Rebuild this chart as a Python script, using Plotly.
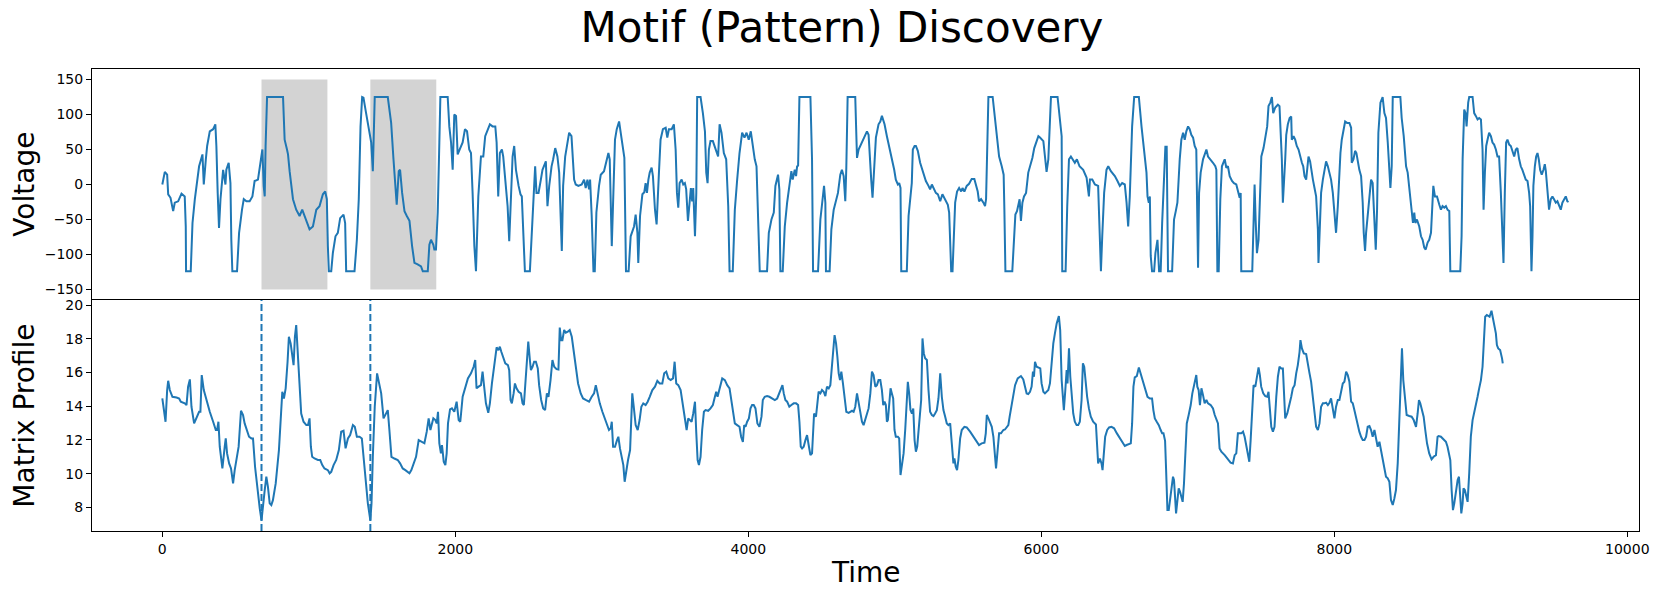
import plotly.graph_objects as go
from plotly.subplots import make_subplots

# ---------------- data ----------------
volt_time = [
    0, 17, 33, 40, 56, 74, 85, 108, 131, 153,
    160, 162, 194, 206, 222, 233, 251, 274, 283, 297,
    306, 324, 347, 362, 369, 378, 387, 397, 415, 431,
    437, 453, 465, 471, 478, 510, 524, 544, 556, 574,
    596, 615, 630, 653, 676, 683, 692, 699, 705, 715,
    824, 835, 851, 858, 869, 892, 914, 937, 955, 978,
    1005, 1028, 1051, 1073, 1096, 1112, 1123, 1130, 1137, 1153,
    1164, 1182, 1198, 1214, 1237, 1248, 1255, 1312, 1328, 1341,
    1353, 1364, 1373, 1391, 1410, 1426, 1437, 1450, 1539, 1562,
    1578, 1591, 1600, 1614, 1623, 1637, 1653, 1669, 1687, 1705,
    1721, 1743, 1766, 1778, 1812, 1823, 1834, 1850, 1857, 1868,
    1880, 1891, 1898, 1948, 1959, 1971, 1982, 1993, 2005, 2016,
    2027, 2050, 2066, 2080, 2095, 2107, 2118, 2130, 2141, 2148,
    2157, 2175, 2191, 2204, 2220, 2236, 2254, 2273, 2282, 2293,
    2304, 2318, 2327, 2341, 2357, 2368, 2379, 2391, 2402, 2414,
    2432, 2445, 2454, 2466, 2475, 2509, 2523, 2532, 2545, 2554,
    2568, 2584, 2595, 2618, 2629, 2641, 2657, 2668, 2682, 2697,
    2709, 2727, 2736, 2750, 2766, 2777, 2793, 2804, 2811, 2822,
    2840, 2863, 2879, 2890, 2902, 2913, 2920, 2931, 2943, 2952,
    2963, 2981, 2993, 3015, 3031, 3045, 3054, 3061, 3068, 3079,
    3090, 3102, 3118, 3129, 3140, 3154, 3165, 3183, 3197, 3208,
    3220, 3231, 3243, 3249, 3261, 3277, 3290, 3299, 3308, 3318,
    3327, 3340, 3349, 3363, 3374, 3390, 3401, 3417, 3436, 3447,
    3458, 3477, 3492, 3504, 3513, 3522, 3531, 3545, 3556, 3567,
    3576, 3588, 3599, 3608, 3617, 3624, 3636, 3645, 3651, 3674,
    3690, 3704, 3713, 3722, 3731, 3742, 3758, 3776, 3794, 3804,
    3817, 3833, 3849, 3863, 3872, 3894, 3908, 3924, 3940, 3958,
    3974, 3988, 4003, 4017, 4031, 4044, 4056, 4067, 4078, 4128,
    4140, 4158, 4174, 4185, 4203, 4212, 4219, 4235, 4249, 4265,
    4281, 4294, 4303, 4317, 4326, 4333, 4340, 4349, 4424, 4435,
    4442, 4476, 4492, 4503, 4517, 4526, 4530, 4555, 4567, 4583,
    4594, 4612, 4628, 4639, 4651, 4662, 4669, 4678, 4730, 4742,
    4753, 4764, 4787, 4810, 4821, 4826, 4839, 4848, 4860, 4871,
    4889, 4901, 4912, 4930, 4946, 4962, 4980, 4996, 5007, 5021,
    5030, 5039, 5044, 5082, 5094, 5105, 5116, 5123, 5135, 5144,
    5157, 5173, 5196, 5212, 5230, 5241, 5253, 5271, 5280, 5294,
    5310, 5325, 5344, 5362, 5371, 5378, 5385, 5394, 5403, 5412,
    5425, 5439, 5453, 5462, 5475, 5491, 5507, 5525, 5543, 5555,
    5566, 5575, 5589, 5605, 5616, 5623, 5634, 5639, 5668, 5684,
    5698, 5712, 5730, 5743, 5748, 5755, 5802, 5814, 5823, 5834,
    5843, 5852, 5861, 5871, 5882, 5896, 5911, 5925, 5939, 5952,
    5968, 5980, 5991, 6014, 6025, 6036, 6048, 6059, 6066, 6111,
    6127, 6139, 6143, 6166, 6177, 6189, 6202, 6216, 6229, 6243,
    6261, 6286, 6309, 6325, 6332, 6348, 6366, 6388, 6400, 6407,
    6416, 6429, 6445, 6457, 6475, 6502, 6520, 6536, 6552, 6570,
    6582, 6593, 6604, 6620, 6634, 6666, 6684, 6700, 6718, 6725,
    6734, 6741, 6747, 6756, 6770, 6779, 6793, 6804, 6815, 6825,
    6838, 6847, 6856, 6865, 6893, 6906, 6918, 6929, 6945, 6956,
    6968, 6979, 6990, 7002, 7013, 7024, 7036, 7047, 7058, 7070,
    7077, 7088, 7104, 7127, 7138, 7156, 7172, 7188, 7195, 7202,
    7211, 7222, 7233, 7252, 7263, 7274, 7286, 7302, 7315, 7331,
    7342, 7354, 7361, 7365, 7440, 7449, 7456, 7463, 7472, 7483,
    7492, 7502, 7517, 7529, 7542, 7551, 7563, 7574, 7583, 7597,
    7615, 7626, 7633, 7642, 7649, 7656, 7665, 7672, 7683, 7695,
    7706, 7710, 7722, 7733, 7744, 7756, 7767, 7779, 7788, 7797,
    7808, 7815, 7824, 7835, 7842, 7854, 7865, 7876, 7888, 7892,
    7899, 7910, 7922, 7933, 7944, 7956, 7967, 7978, 7990, 8001,
    8012, 8024, 8035, 8042, 8051, 8062, 8074, 8087, 8103, 8115,
    8119, 8131, 8142, 8151, 8160, 8171, 8183, 8194, 8201, 8210,
    8217, 8228, 8240, 8251, 8262, 8274, 8283, 8292, 8301, 8315,
    8330, 8342, 8353, 8365, 8376, 8383, 8392, 8399, 8451, 8460,
    8474, 8490, 8501, 8512, 8528, 8537, 8546, 8553, 8564, 8580,
    8592, 8603, 8614, 8624, 8637, 8648, 8660, 8667, 8676, 8687,
    8701, 8717, 8728, 8739, 8751, 8762, 8773, 8785, 8792, 8860,
    8869, 8876, 8887, 8896, 8903, 8914, 8921, 8944, 8955, 8966,
    8978, 8989, 9001, 9012, 9019, 9028, 9037, 9046, 9057, 9069,
    9080, 9091, 9103, 9114, 9125, 9137, 9148, 9155, 9164, 9173,
    9182, 9194, 9205, 9216, 9228, 9239, 9250, 9262, 9273, 9284,
    9296, 9307, 9319, 9330, 9337, 9346, 9353, 9359, 9369, 9378,
    9387, 9396, 9405, 9416, 9428, 9437, 9444, 9455, 9466, 9478,
    9489, 9500, 9512, 9523, 9534, 9546, 9557, 9569, 9580, 9591, 9599,
]
volt_value = [
    0, 18, 14, -14, -19, -38, -26, -24, -13, -17,
    -60, -124, -124, -55, -21, 0, 26, 43, 0, 36,
    55, 76, 79, 86, 55, -12, -62, -21, 21, 0,
    21, 31, 2, -79, -124, -124, -69, -36, -21, -24,
    -24, -17, 5, 7, 36, 50, -2, -17, 55, 125,
    125, 64, 50, 43, 19, -21, -36, -45, -36, -50,
    -64, -60, -36, -31, -14, -10, -21, -88, -124, -124,
    -98, -74, -69, -48, -43, -55, -124, -124, -79, -21,
    83, 125, 124, 102, 79, 60, 19, 125, 125, 88,
    36, -7, -29, 19, 21, -12, -38, -45, -52, -88,
    -112, -114, -117, -124, -124, -86, -79, -86, -93, -93,
    -40, 60, 125, 125, 83, 60, 21, 100, 98, 43,
    48, 60, 79, 76, 50, 45, -12, -88, -124, -88,
    -17, 40, 40, 69, 79, 86, 83, 83, 60, -17,
    45, 50, 40, 7, -31, -81, -21, 40, 55, 21,
    -2, -14, -17, -81, -124, -124, -64, -12, 26, -12,
    -12, 7, 21, 33, -31, -2, 26, 36, 52, 40,
    17, -95, -2, 40, 64, 74, 69, 17, 7, 0,
    -2, 0, 7, -5, 7, -7, 7, -45, -124, -124,
    -40, -2, 14, 19, 33, 45, 36, -12, -88, -12,
    64, 79, 90, 74, 55, 38, -124, -124, -74, -67,
    -60, -43, -69, -112, -45, -14, -11, 2, -12, 7,
    17, 24, 12, -36, -57, 17, 64, 79, 81, 67,
    79, 79, 86, 50, -12, -33, 2, 7, 0, 2,
    -7, -52, -21, -5, -24, -5, -74, -12, 125, 125,
    102, 76, 17, 2, 50, 62, 62, 50, 40, 86,
    74, 45, 36, -31, -124, -124, -36, 7, 45, 74,
    67, 74, 64, 76, 52, 36, 26, -45, -124, -124,
    -69, -50, -40, -2, 14, -7, -124, -124, -60, -26,
    -2, 19, 7, 21, 12, 26, 27, 125, 125, 36,
    -124, -124, -50, -26, -2, -26, -124, -124, -64, -36,
    -26, -12, 14, 21, 12, -24, 24, 125, 125, 38,
    50, 55, 64, 76, 71, 50, 7, -19, 36, 67,
    86, 90, 98, 86, 69, 55, 36, 21, 7, 0,
    2, -5, -124, -124, -45, -21, 2, 50, 55, 55,
    48, 31, 17, 5, -2, -7, 0, -7, -12, -14,
    -24, -14, -21, -29, -40, -102, -124, -124, -60, -26,
    -10, -5, -10, -5, -10, -2, 1, 8, 8, 0,
    -10, -24, -21, -26, -31, -21, 79, 125, 125, 93,
    69, 40, 26, 14, -36, -124, -124, -79, -43, -38,
    -31, -21, -52, -26, -17, -12, 17, 27, 38, 52,
    62, 69, 67, 62, 40, 18, 36, 83, 125, 125,
    98, 69, -124, -124, -31, 36, 40, 36, 31, 36,
    26, 21, 10, -17, 7, 7, 0, -2, -74, -124,
    -74, -12, 21, 26, 19, 12, 5, -2, 2, 0,
    -26, -60, -17, 83, 125, 125, 83, 50, 17, -17,
    -26, -17, -102, -124, -124, -98, -79, -124, -124, -55,
    21, 54, 54, -124, -124, -50, -38, -26, 36, 64,
    74, 64, 76, 83, 79, 71, 67, 55, 50, -119,
    -12, 17, 36, 50, 40, 36, 31, 26, 21, -124,
    -124, -21, 26, 36, 24, 26, 12, 5, 2, 0,
    -10, -19, -12, -124, -124, -50, 0, -50, -98, -79,
    -21, 40, 52, 67, 83, 112, 117, 125, 102, 110,
    114, 112, 83, 36, -26, 12, 36, 71, 86, 95,
    97, 64, 69, 64, 55, 50, 40, 31, 26, 12,
    7, 26, 40, 33, 21, 7, -5, -17, -64, -112,
    -74, -12, 7, 21, 33, 26, 14, 7, -12, -40,
    -69, -31, 21, 45, 64, 79, 90, 88, 88, 81,
    31, 36, 48, 45, 31, 21, 12, -26, -69, -95,
    -69, -45, -26, 7, 2, -69, -93, -36, 74, 117,
    125, 102, 95, 60, 21, -5, 26, 125, 125, 95,
    69, 26, 17, -7, -31, -55, -40, -55, -50, -60,
    -74, -79, -90, -93, -83, -79, -69, -31, -2, -17,
    -17, -29, -36, -31, -33, -31, -36, -38, -124, -124,
    -74, 36, 107, 102, 83, 117, 125, 125, 102, 98,
    93, 95, 93, 50, -36, 17, 55, 64, 74, 69,
    60, 57, 50, 40, 40, -12, -79, -112, -12, 60,
    64, 57, 55, 48, 40, 50, 52, 36, 26, 21,
    12, 7, 5, -12, -31, -124, -74, -2, 26, 40,
    45, 36, 21, 14, 21, 29, 19, -5, -36, -21,
    -17, -21, -26, -24, -31, -36, -26, -21, -17, -24, -25,
]

mp_time = [
    0, 10, 22, 33, 40, 51, 69, 97, 115, 126,
    153, 165, 176, 188, 199, 217, 233, 251, 260, 269,
    283, 301, 324, 347, 365, 374, 383, 392, 410, 426,
    433, 442, 456, 469, 483, 494, 506, 521, 537, 551,
    562, 574, 592, 608, 619, 633, 649, 665, 677, 687,
    699, 710, 721, 733, 744, 755, 774, 796, 810, 819,
    830, 842, 855, 864, 876, 887, 896, 905, 914, 926,
    937, 948, 964, 983, 994, 1005, 1014, 1023, 1039, 1062,
    1078, 1092, 1107, 1130, 1142, 1153, 1169, 1187, 1205, 1221,
    1237, 1251, 1267, 1282, 1301, 1314, 1328, 1346, 1362, 1373,
    1387, 1403, 1420, 1428, 1437, 1450, 1466, 1478, 1494, 1510,
    1523, 1539, 1550, 1564, 1584, 1607, 1623, 1641, 1659, 1675,
    1687, 1700, 1721, 1732, 1750, 1766, 1789, 1805, 1818, 1830,
    1841, 1850, 1864, 1873, 1882, 1891, 1902, 1909, 1921, 1932,
    1941, 1950, 1964, 1977, 1993, 2009, 2023, 2034, 2050, 2068,
    2086, 2107, 2125, 2136, 2145, 2159,
    2175, 2186, 2198, 2209, 2225, 2236, 2250, 2266, 2282, 2295,
    2304, 2314, 2327, 2341, 2359, 2368, 2377, 2386, 2398, 2407,
    2418, 2432, 2448, 2459, 2468, 2482, 2498, 2509, 2516, 2527,
    2538, 2550, 2563, 2572, 2586, 2600, 2613, 2625, 2636, 2650,
    2663, 2675, 2691, 2704, 2713, 2722, 2731, 2743, 2754, 2768,
    2781, 2795, 2809, 2822, 2838, 2856, 2872, 2890, 2913, 2931,
    2947, 2959, 2970, 2986, 3004, 3022, 3038, 3049, 3061, 3068,
    3077, 3090, 3104, 3113, 3124, 3136, 3147, 3156, 3165, 3179,
    3193, 3199, 3208, 3218, 3231, 3245, 3258, 3270, 3283, 3299,
    3313, 3327, 3345, 3363, 3379, 3395, 3413, 3426, 3440, 3454,
    3470, 3486, 3497, 3508, 3522, 3538, 3554, 3567, 3579, 3590,
    3601, 3613, 3624, 3636, 3645, 3654, 3663, 3674, 3685, 3697,
    3708, 3726, 3742, 3758, 3772, 3781, 3790, 3799, 3813, 3822,
    3840, 3856, 3872, 3883, 3897, 3908, 3924, 3940, 3951, 3963,
    3972, 3981, 3992, 4004, 4015, 4026, 4037, 4049, 4062, 4076,
    4090, 4099, 4112, 4128, 4144, 4162, 4181, 4197, 4212, 4224,
    4233, 4242, 4253, 4265, 4280, 4294, 4310, 4326, 4340, 4349,
    4358, 4367, 4378, 4390, 4401, 4412, 4424, 4435, 4442, 4449,
    4462, 4471, 4480, 4492, 4503, 4515, 4526, 4537, 4549, 4560,
    4571, 4583, 4589, 4599, 4608, 4617, 4626, 4635, 4646, 4658,
    4669, 4685, 4696, 4708, 4719, 4730, 4742, 4753, 4764, 4776,
    4787, 4798, 4810, 4821, 4833, 4844, 4855, 4867, 4878, 4889,
    4901, 4912, 4921, 4930, 4939, 4946, 4953, 4962, 4971, 4980,
    4989, 4998, 5007, 5021, 5030, 5039, 5048, 5060, 5071, 5082,
    5089, 5098, 5107, 5117, 5126, 5135, 5144, 5153, 5162, 5173,
    5180, 5189, 5198, 5207, 5219, 5230, 5241, 5253, 5264, 5275,
    5287, 5298, 5310, 5321, 5332, 5344, 5355, 5366, 5378, 5389,
    5400, 5407, 5416, 5425, 5434, 5446, 5457, 5475, 5491, 5514,
    5537, 5559, 5575, 5593, 5612, 5621, 5628, 5639, 5653, 5662,
    5673, 5684, 5691, 5702, 5712, 5725, 5741, 5752, 5764, 5775,
    5784, 5798, 5809, 5821, 5839, 5861, 5877, 5889, 5900, 5911,
    5923, 5934, 5943, 5950, 5957, 5968, 5980, 5993, 6002, 6014,
    6025, 6036, 6048, 6059, 6070, 6082, 6093, 6105, 6120, 6129,
    6139, 6145, 6154, 6164, 6173, 6179, 6189, 6198, 6207, 6218,
    6229, 6241, 6252, 6263, 6275, 6284, 6293, 6302, 6313, 6325,
    6338, 6354, 6366, 6373, 6379, 6388, 6400, 6411, 6418, 6427,
    6436, 6450, 6463, 6479, 6497, 6516, 6536, 6554, 6570, 6582,
    6597, 6611, 6620, 6629, 6638, 6652, 6666, 6675, 6688, 6706,
    6725, 6741, 6756, 6765, 6775, 6788, 6802, 6815, 6825, 6834,
    6838, 6845, 6852, 6861, 6870, 6879, 6888, 6899, 6906, 6913,
    6920, 6927, 6938, 6947, 6956, 6965, 6974, 6984, 6993, 7006,
    7020, 7031, 7043, 7052, 7058, 7065, 7074, 7083, 7093, 7104,
    7115, 7127, 7138, 7156, 7172, 7184, 7195, 7206, 7217, 7229,
    7252, 7274, 7292, 7308, 7320, 7331, 7342, 7365, 7377, 7388,
    7399, 7411, 7420, 7429, 7440, 7449, 7461, 7472, 7483, 7492,
    7501, 7515, 7529, 7542, 7551, 7560, 7570, 7581, 7592, 7604,
    7615,
    7626, 7638, 7649, 7656, 7665, 7679, 7695, 7706, 7717, 7729,
    7740, 7751, 7763, 7769, 7779, 7792, 7808, 7819, 7831, 7842,
    7854, 7865, 7876, 7888, 7899, 7910, 7922, 7933, 7944, 7956,
    7967, 7978, 7990, 8001, 8012, 8024, 8035, 8047, 8058, 8069,
    8081, 8092, 8103, 8115, 8126, 8137, 8149, 8160, 8171, 8183,
    8194, 8206, 8217, 8228, 8240, 8251, 8262, 8274, 8285, 8296,
    8308, 8319, 8330, 8342, 8353, 8365, 8376, 8387, 8399, 8410,
    8421, 8433, 8444, 8455, 8462, 8471, 8483, 8494, 8512, 8528,
    8542, 8558, 8569, 8578, 8587, 8599, 8610, 8621, 8633, 8648,
    8664, 8678, 8694, 8705, 8712, 8728, 8739, 8762, 8773, 8785,
    8792, 8801, 8810, 8819, 8830, 8842, 8851, 8860, 8867, 8876,
    8882, 8891, 8901, 8910, 8921, 8932, 8944, 8955, 8966, 8978,
    8989, 9001, 9012, 9023, 9030, 9041, 9051, 9060, 9073, 9082,
    9091, 9103, 9110, 9119, 9132, 9141, 9145, 9150,
]
mp_value = [
    14.46, 13.77, 13.08, 14.96, 15.51, 14.96, 14.56, 14.52, 14.46, 14.27,
    14.17, 14.07, 15.16, 15.59, 13.97, 12.98, 13.28, 13.67, 13.67, 15.85,
    14.96, 14.37, 13.67, 13.08, 12.59, 12.59, 13.08, 11.60, 10.31, 11.60,
    12.09, 11.20, 10.61, 10.31, 9.42, 10.21, 10.90, 11.60, 13.73, 13.48,
    12.98, 12.69, 12.19, 12.09, 12.09, 10.41, 9.03, 7.94, 7.23, 8.24,
    9.03, 9.82, 9.22, 8.24, 8.14, 8.43, 9.42, 11.40, 13.38, 14.86,
    14.46, 15.06, 16.64, 18.12, 17.73, 16.94, 16.44, 18.12, 18.81, 16.94,
    14.96, 13.57, 13.08, 12.88, 12.88, 13.28, 11.60, 11.00, 10.90, 10.81,
    10.81, 10.51, 10.31, 10.21, 10.02, 10.11, 10.51, 10.81, 11.40, 12.49,
    12.55, 11.50, 12.09, 12.29, 12.88, 12.78, 12.19, 12.19, 12.09, 11.00,
    9.62, 8.24, 7.23, 8.24, 11.00, 13.97, 15.95, 15.35, 14.76, 13.28,
    13.48, 13.77, 12.59, 11.00, 10.90, 10.81, 10.61, 10.31, 10.21, 10.11,
    10.02, 10.21, 10.71, 11.00, 11.99, 11.89, 11.80, 12.49, 13.28, 12.59,
    12.98, 13.28, 13.18, 12.98, 13.67, 11.80, 11.20, 11.70, 10.71, 10.51,
    11.20, 12.98, 13.81, 13.87, 13.67, 14.27, 13.18, 13.08, 14.56, 15.16,
    15.65, 15.95, 16.34, 16.74, 15.06, 15.16,
    15.25, 16.05, 15.16, 14.17, 13.61, 14.17, 15.35, 16.54, 17.49, 17.33,
    17.53, 17.23, 16.84, 16.54, 16.44, 16.14, 14.37, 14.17, 14.76, 15.35,
    15.06, 14.86, 14.76, 14.17, 14.07, 15.95, 17.83, 16.74, 16.14, 16.34,
    16.64, 16.64, 16.24, 15.25, 14.37, 13.87, 13.77, 14.76, 14.56, 15.55,
    16.74, 16.34, 16.20, 16.18, 18.67, 17.92, 17.92, 18.52, 18.36, 18.42,
    18.52, 18.12, 17.13, 16.14, 15.35, 14.76, 14.46, 14.37, 14.27, 14.56,
    14.76, 15.25, 14.76, 14.17, 13.67, 13.18, 12.78, 12.59, 12.69, 13.08,
    11.60, 11.60, 11.99, 12.19, 11.50, 10.90, 10.51, 9.52, 10.11, 10.81,
    11.40, 12.98, 14.76, 13.97, 12.88, 12.59, 13.18, 13.97, 14.17, 14.07,
    14.27, 14.56, 14.96, 15.16, 15.51, 15.35, 15.35, 15.95, 16.05, 15.65,
    15.55, 15.65, 16.64, 15.35, 15.25, 14.96, 13.97, 13.18, 12.59, 13.28,
    13.18, 13.08, 13.57, 14.27, 12.39, 10.81, 10.51, 11.00, 12.59, 13.67,
    13.77, 13.73, 13.87, 14.07, 14.56, 14.86, 14.56, 14.86, 15.45, 15.65,
    15.55, 15.25, 15.06, 14.37, 13.38, 12.98, 12.88, 12.78, 12.19, 11.89,
    12.88, 12.78, 13.08, 13.28, 13.87, 14.07, 14.07, 13.87, 12.98, 12.78,
    13.38, 14.37, 14.56, 14.60, 14.56, 14.46, 14.37, 14.46, 14.76, 14.96,
    15.25, 14.76, 14.37, 14.27, 13.97, 14.07, 14.17, 14.17, 14.07, 13.08,
    11.60, 11.50, 11.60, 11.99, 12.29, 11.70, 11.10, 11.20, 12.78, 13.57,
    13.38, 13.97, 14.86, 14.76, 14.96, 14.86, 14.60, 15.16, 15.06, 15.25,
    16.64, 17.63, 18.22, 17.73, 16.94, 15.95, 15.55, 16.05, 15.35, 14.37,
    13.67, 13.61, 13.67, 13.73, 13.67, 13.97, 14.76, 14.27, 13.57, 13.08,
    12.88, 13.18, 13.57, 13.87, 14.76, 16.05, 15.85, 15.16, 15.25, 15.55,
    15.55, 14.96, 14.07, 14.27, 14.07, 13.08, 13.18, 14.37, 15.06, 14.76,
    14.46, 12.59, 12.19, 12.19, 12.09, 9.92, 10.41, 11.20, 12.59, 14.37,
    15.45, 14.76, 13.77, 13.57, 13.87, 11.99, 11.30, 11.60, 12.39, 13.38,
    14.37, 18.02, 17.13, 16.84, 16.74, 14.96, 13.67, 13.48, 13.42, 13.57,
    13.77, 14.46, 15.95, 14.56, 13.77, 13.38, 12.98, 12.88, 12.98, 11.80,
    10.61, 10.90, 10.41, 10.21, 10.81, 12.09, 12.59, 12.78, 12.74, 12.49,
    12.19, 11.89, 11.70, 11.80, 11.84, 12.39, 13.48, 13.28, 12.98, 12.78,
    12.19, 11.00, 10.31, 11.40, 12.39, 12.39, 12.59, 12.62, 12.78, 12.88,
    13.38, 14.17, 14.86, 15.25, 15.65, 15.79, 15.59, 15.06, 14.76, 14.72,
    14.86, 15.16, 16.05, 15.75, 16.64, 16.34, 16.30, 16.24, 15.35, 14.86,
    14.76, 14.86, 14.96, 15.35, 16.54, 17.73, 18.32, 18.91, 19.35, 18.52,
    15.55, 14.96, 13.77, 14.96, 16.14, 15.35, 17.43, 15.75, 14.56, 13.57,
    13.08, 12.88, 12.88, 13.08, 14.37, 16.54, 16.34, 15.35, 14.56, 13.87,
    13.38, 13.08, 12.98, 12.92, 11.99, 10.61, 10.90, 10.61, 10.21, 11.00,
    12.19, 12.59, 12.74, 12.78, 12.69, 12.39, 12.09, 11.80, 11.64, 11.70,
    11.76, 11.80, 12.98, 15.16, 15.71, 15.79, 16.30, 16.05, 15.65, 15.16,
    14.56, 14.46, 14.46, 13.77, 13.28, 13.08, 12.88, 12.59, 12.39, 12.39,
    12.09, 11.95, 10.21, 7.84, 7.84, 8.43, 9.22, 9.82, 9.62, 8.63,
    7.64, 8.24, 9.13, 8.93, 8.53, 8.33, 9.42, 11.60, 12.98, 13.48,
    14.07, 14.76, 15.35, 15.65, 15.85, 15.16, 14.96, 14.07, 15.06, 14.66,
    14.17, 14.37, 14.17, 14.07, 13.87, 13.48, 13.18, 12.98, 11.50, 11.30,
    11.10, 10.81, 10.65, 10.61, 11.10, 11.20, 12.39, 12.39, 12.49, 12.19,
    11.60, 11.00, 10.71, 11.99, 13.57, 15.25, 15.16, 15.75, 16.30, 15.85,
    15.16, 14.76, 14.60, 14.56, 14.86, 13.87, 12.78, 12.49, 12.78, 14.56,
    15.75,
    16.34, 16.24, 16.24, 14.66, 13.28, 13.57, 14.07, 14.56, 15.06, 15.25,
    15.95, 16.44, 17.23, 17.92, 17.43, 17.13, 17.09, 16.44, 15.95, 15.45,
    14.56, 13.77, 12.78, 12.59, 12.98, 13.97, 14.17, 14.17, 14.21, 14.07,
    14.21, 14.46, 13.77, 13.28, 13.97, 14.37, 14.37, 14.86, 15.35, 15.45,
    16.05, 15.85, 15.45, 14.27, 14.17, 13.77, 13.28, 12.78, 12.49, 12.19,
    11.99, 11.99, 12.19, 12.78, 12.82, 12.59, 12.19, 12.59, 12.19, 11.60,
    11.89, 11.40, 11.00, 10.51, 9.82, 9.72, 9.52, 8.43, 8.14, 8.53,
    9.03, 10.61, 13.38, 15.55, 17.43, 15.55, 14.37, 13.48, 13.42, 13.38,
    13.18, 12.78, 13.57, 14.37, 14.17, 13.77, 13.38, 12.59, 11.80, 11.20,
    10.85, 11.00, 11.10, 12.19, 12.23, 12.19, 12.09, 11.89, 11.60, 11.00,
    10.81, 9.03, 7.84, 8.24, 9.03, 9.62, 9.82, 8.63, 7.64, 8.24,
    9.13, 9.03, 8.63, 8.33, 10.02, 12.19, 13.18, 13.57, 13.97, 14.56,
    15.06, 15.55, 16.34, 17.92, 19.31, 19.41, 19.35, 19.31, 19.66, 19.21,
    18.91, 18.32, 17.63, 17.43, 17.33, 17.04, 16.84, 16.54,
]

motif_idx = [677, 1420]   # start of the two motif occurrences
window = 450              # subsequence length

x_ticks = [0, 2000, 4000, 6000, 8000, 10000]
x_tick_text = ["0", "2000", "4000", "6000", "8000", "10000"]
volt_ticks = [-150, -100, -50, 0, 50, 100, 150]
mp_ticks = [8, 10, 12, 14, 16, 18, 20]

assert len(volt_time) == len(volt_value), (len(volt_time), len(volt_value))
assert len(mp_time) == len(mp_value), (len(mp_time), len(mp_value))

# ---------------- figure ----------------
BLUE = "#1f77b4"
FONT = "DejaVu Sans"

fig = make_subplots(rows=2, cols=1, shared_xaxes=True, vertical_spacing=0)

for idx in motif_idx:
    fig.add_shape(type="rect", x0=idx, x1=idx + window, y0=-150, y1=150,
                  xref="x", yref="y", fillcolor="lightgrey",
                  line=dict(width=0), layer="below")

fig.add_trace(go.Scatter(x=volt_time, y=volt_value, mode="lines",
                         line=dict(color=BLUE, width=2), hoverinfo="skip"),
              row=1, col=1)
fig.add_trace(go.Scatter(x=mp_time, y=mp_value, mode="lines",
                         line=dict(color=BLUE, width=2), hoverinfo="skip"),
              row=2, col=1)

for idx in motif_idx:
    fig.add_shape(type="line", x0=idx, x1=idx, y0=0, y1=1,
                  xref="x2", yref="y2 domain",
                  line=dict(color=BLUE, width=2, dash="7px,3px"))

axis_common = dict(showline=True, linecolor="black", linewidth=1,
                   showgrid=False, zeroline=False,
                   tickfont=dict(family=FONT, size=14, color="black"))

fig.update_xaxes(range=[-480, 10080], **axis_common)
# top panel: only its upper border (the shared border comes from the lower panel)
fig.update_xaxes(showticklabels=False, ticks="", side="top", mirror=False,
                 row=1, col=1)
fig.update_xaxes(tickmode="array", tickvals=x_ticks, ticktext=x_tick_text,
                 ticks="outside", ticklen=5, tickwidth=1, tickcolor="black",
                 mirror=True, row=2, col=1)
fig.update_yaxes(range=[-165, 165], tickmode="array", tickvals=volt_ticks,
                 ticks="outside", ticklen=5, tickwidth=1, tickcolor="black",
                 mirror=True, row=1, col=1, **axis_common)
fig.update_yaxes(range=[6.6, 20.3], tickmode="array", tickvals=mp_ticks,
                 ticks="outside", ticklen=5, tickwidth=1, tickcolor="black",
                 mirror=True, row=2, col=1, **axis_common)

plot_h = 598 - 69 - 67
fig.update_layout(
    width=1662, height=598,
    margin=dict(l=92, r=20, t=69, b=67),
    paper_bgcolor="white", plot_bgcolor="white",
    showlegend=False,
    title=dict(text="Motif (Pattern) Discovery", x=842 / 1662, y=1 - 27 / 598,
               xref="container", yref="container",
               xanchor="center", yanchor="middle",
               font=dict(family=FONT, size=42, color="black")),
    annotations=[
        dict(text="Voltage", xref="paper", yref="paper",
             x=(24 - 92) / 1550, y=0.75, xanchor="center", yanchor="middle",
             textangle=-90, showarrow=False,
             font=dict(family=FONT, size=28, color="black")),
        dict(text="Matrix Profile", xref="paper", yref="paper",
             x=(24 - 92) / 1550, y=0.25, xanchor="center", yanchor="middle",
             textangle=-90, showarrow=False,
             font=dict(family=FONT, size=28, color="black")),
        dict(text="Time", xref="paper", yref="paper",
             x=0.5, y=-(572 - 531) / plot_h, xanchor="center", yanchor="middle",
             showarrow=False,
             font=dict(family=FONT, size=28, color="black")),
    ],
)

fig.write_html("out.html")
